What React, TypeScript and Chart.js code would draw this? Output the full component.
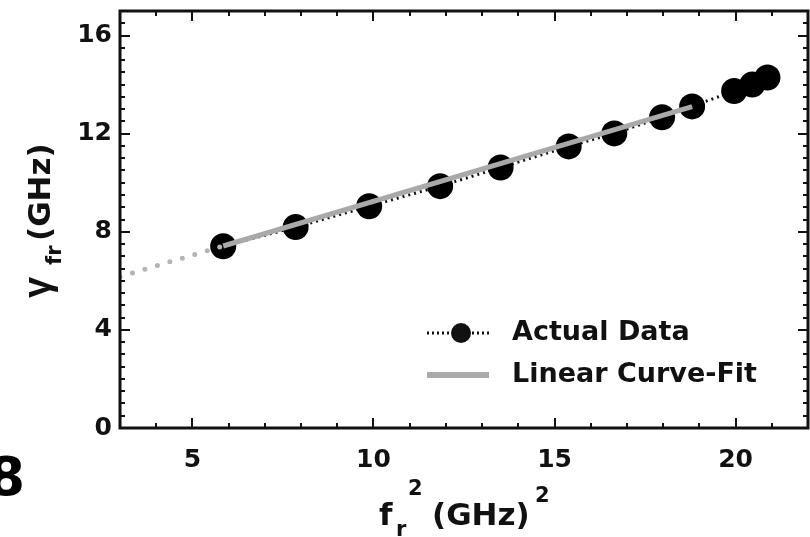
import { useEffect, useRef } from 'react';
import { Chart, registerables } from 'chart.js';

Chart.register(...registerables);

const FONT = '"DejaVu Sans", "Liberation Sans", sans-serif';
const GREEK_FONT = '"Liberation Sans", Arial, sans-serif';

// Actual data
const actualX = [5.85, 7.85, 9.88, 11.84, 13.51, 15.39, 16.65, 17.97, 18.8, 19.96, 20.46, 20.88];
const actualY = [7.41, 8.19, 9.04, 9.86, 10.62, 11.48, 12.01, 12.67, 13.11, 13.74, 14.0, 14.29];

// Linear curve-fit (solid part) and its dotted extrapolation
const fitX = [5.85, 18.8];
const fitY = [7.42, 13.1];
const fitExtX = [3, 5.85];
const fitExtY = [6.17, 7.42];

// Axes
const xTicks = [5, 10, 15, 20];
const yTicks = [0, 4, 8, 12, 16];
const xRange = [3, 22];
const yRange = [0, 17];
const xMinorStep = 1;
const yMinorStep = 0.5;

const legendLabels = ['Actual Data', 'Linear Curve-Fit'];
const figureLabel = '8';

const toPts = (xs: number[], ys: number[]) => xs.map((x, i) => ({ x, y: ys[i] }));

const decorPlugin = {
  id: 'decor',
  afterDraw(chart: any) {
    const ctx = chart.ctx as CanvasRenderingContext2D;
    const { left, right, top, bottom } = chart.chartArea;
    const xs = chart.scales.x;
    const ys = chart.scales.y;
    ctx.save();

    // inward ticks on all four sides
    ctx.strokeStyle = '#111';
    ctx.lineWidth = 2;
    ctx.lineCap = 'butt';
    for (let v = Math.ceil(xRange[0]); v <= xRange[1] + 1e-9; v += xMinorStep) {
      const px = Math.round(xs.getPixelForValue(v));
      const len = xTicks.includes(v) ? 10 : 5;
      ctx.beginPath();
      ctx.moveTo(px, bottom);
      ctx.lineTo(px, bottom - len);
      ctx.moveTo(px, top);
      ctx.lineTo(px, top + len);
      ctx.stroke();
    }
    for (let v = yRange[0]; v <= yRange[1] + 1e-9; v += yMinorStep) {
      const py = Math.round(ys.getPixelForValue(v));
      const len = yTicks.includes(v) ? 10 : 5;
      ctx.beginPath();
      ctx.moveTo(left, py);
      ctx.lineTo(left + len, py);
      ctx.moveTo(right, py);
      ctx.lineTo(right - len, py);
      ctx.stroke();
    }

    // frame
    ctx.lineWidth = 3;
    ctx.strokeStyle = '#111';
    ctx.strokeRect(left, top, right - left, bottom - top);

    ctx.fillStyle = '#111';
    ctx.textAlign = 'left';
    ctx.textBaseline = 'alphabetic';

    // x-axis title: f_r^2 (GHz)^2
    const bx = 525;
    ctx.font = `bold 31px ${FONT}`;
    ctx.fillText('f', 379, bx);
    ctx.font = `bold 21px ${FONT}`;
    ctx.fillText('r', 396, bx + 11);
    ctx.fillText('2', 408, bx - 30);
    ctx.font = `bold 31px ${FONT}`;
    ctx.fillText('(GHz)', 432, bx);
    ctx.font = `bold 21px ${FONT}`;
    ctx.fillText('2', 535, bx - 23);

    // y-axis title: gamma_fr (GHz), rotated
    ctx.save();
    ctx.translate(50, 298);
    ctx.rotate(-Math.PI / 2);
    ctx.font = `bold 38px ${GREEK_FONT}`;
    ctx.fillText('\u03B3', 0, 0);
    ctx.font = `bold 21px ${FONT}`;
    ctx.fillText('fr', 33, 11);
    ctx.font = `bold 31px ${FONT}`;
    ctx.fillText('(GHz)', 57, 0);
    ctx.restore();

    // legend
    const lx0 = 427, lx1 = 489;
    const ly1 = 333, ly2 = 375;
    ctx.strokeStyle = '#111';
    ctx.lineWidth = 3;
    ctx.setLineDash([2, 3]);
    ctx.beginPath();
    ctx.moveTo(lx0, ly1);
    ctx.lineTo(lx1, ly1);
    ctx.stroke();
    ctx.setLineDash([]);
    ctx.beginPath();
    ctx.arc(461, ly1, 10, 0, Math.PI * 2);
    ctx.fill();
    ctx.strokeStyle = '#aaaaaa';
    ctx.lineWidth = 6;
    ctx.beginPath();
    ctx.moveTo(lx0, ly2);
    ctx.lineTo(lx1, ly2);
    ctx.stroke();
    ctx.fillStyle = '#111';
    ctx.font = `bold 27px ${FONT}`;
    ctx.textBaseline = 'middle';
    ctx.fillText(legendLabels[0], 512, ly1);
    ctx.fillText(legendLabels[1], 512, ly2);

    // figure label
    ctx.textBaseline = 'alphabetic';
    ctx.textAlign = 'right';
    ctx.font = `bold 54px ${FONT}`;
    ctx.fillStyle = '#000';
    ctx.fillText(figureLabel, 25, 495);

    ctx.restore();
  },
};

const zeroPad = (s: any) => {
  s.paddingLeft = 0;
  s.paddingRight = 0;
  s.paddingTop = 0;
  s.paddingBottom = 0;
};

export default function App() {
  const ref = useRef<HTMLCanvasElement | null>(null);

  useEffect(() => {
    if (!ref.current) return;
    const chart = new Chart(ref.current, {
      type: 'line',
      data: {
        datasets: [
          {
            label: 'Linear Curve-Fit',
            data: toPts(fitX, fitY),
            borderColor: '#a9a9a9',
            borderWidth: 5,
            pointRadius: 0,
            fill: false,
            order: 0,
          },
          {
            label: 'fit-ext',
            data: toPts(fitExtX, fitExtY),
            borderColor: '#b4b4b4',
            borderWidth: 5,
            borderDash: [0, 13],
            borderCapStyle: 'round',
            pointRadius: 0,
            fill: false,
            order: 0,
          },
          {
            label: 'Actual Data',
            data: toPts(actualX, actualY),
            borderColor: '#111',
            borderWidth: 3,
            borderDash: [2, 4],
            pointRadius: 13,
            pointBackgroundColor: '#000',
            pointBorderColor: '#000',
            pointBorderWidth: 0,
            fill: false,
            order: 1,
          },
        ],
      } as any,
      options: {
        animation: false,
        responsive: false,
        maintainAspectRatio: false,
        layout: { autoPadding: false, padding: { top: 11, right: 2, left: 0, bottom: 0 } },
        plugins: { legend: { display: false }, tooltip: { enabled: false } },
        scales: {
          x: {
            type: 'linear',
            position: 'bottom',
            min: xRange[0],
            max: xRange[1],
            grid: { display: false, drawTicks: false },
            border: { display: false },
            ticks: {
              color: '#111',
              padding: 17,
              font: { family: FONT, size: 25, weight: 'bold' },
            },
            afterBuildTicks: (s: any) => {
              s.ticks = xTicks.map((v) => ({ value: v }));
            },
            afterFit: (s: any) => {
              s.height = 109;
              zeroPad(s);
            },
          },
          y: {
            type: 'linear',
            min: yRange[0],
            max: yRange[1],
            grid: { display: false, drawTicks: false },
            border: { display: false },
            ticks: {
              color: '#111',
              padding: 8,
              font: { family: FONT, size: 25, weight: 'bold' },
            },
            afterBuildTicks: (s: any) => {
              s.ticks = yTicks.map((v) => ({ value: v }));
            },
            afterFit: (s: any) => {
              s.width = 120;
              zeroPad(s);
            },
          },
        },
      } as any,
      plugins: [decorPlugin],
    });
    return () => chart.destroy();
  }, []);

  return (
    <div style={{ position: 'absolute', left: 0, top: 0, width: 810, height: 537, background: '#fff' }}>
      <canvas ref={ref} width={810} height={537} style={{ display: 'block' }} />
    </div>
  );
}
